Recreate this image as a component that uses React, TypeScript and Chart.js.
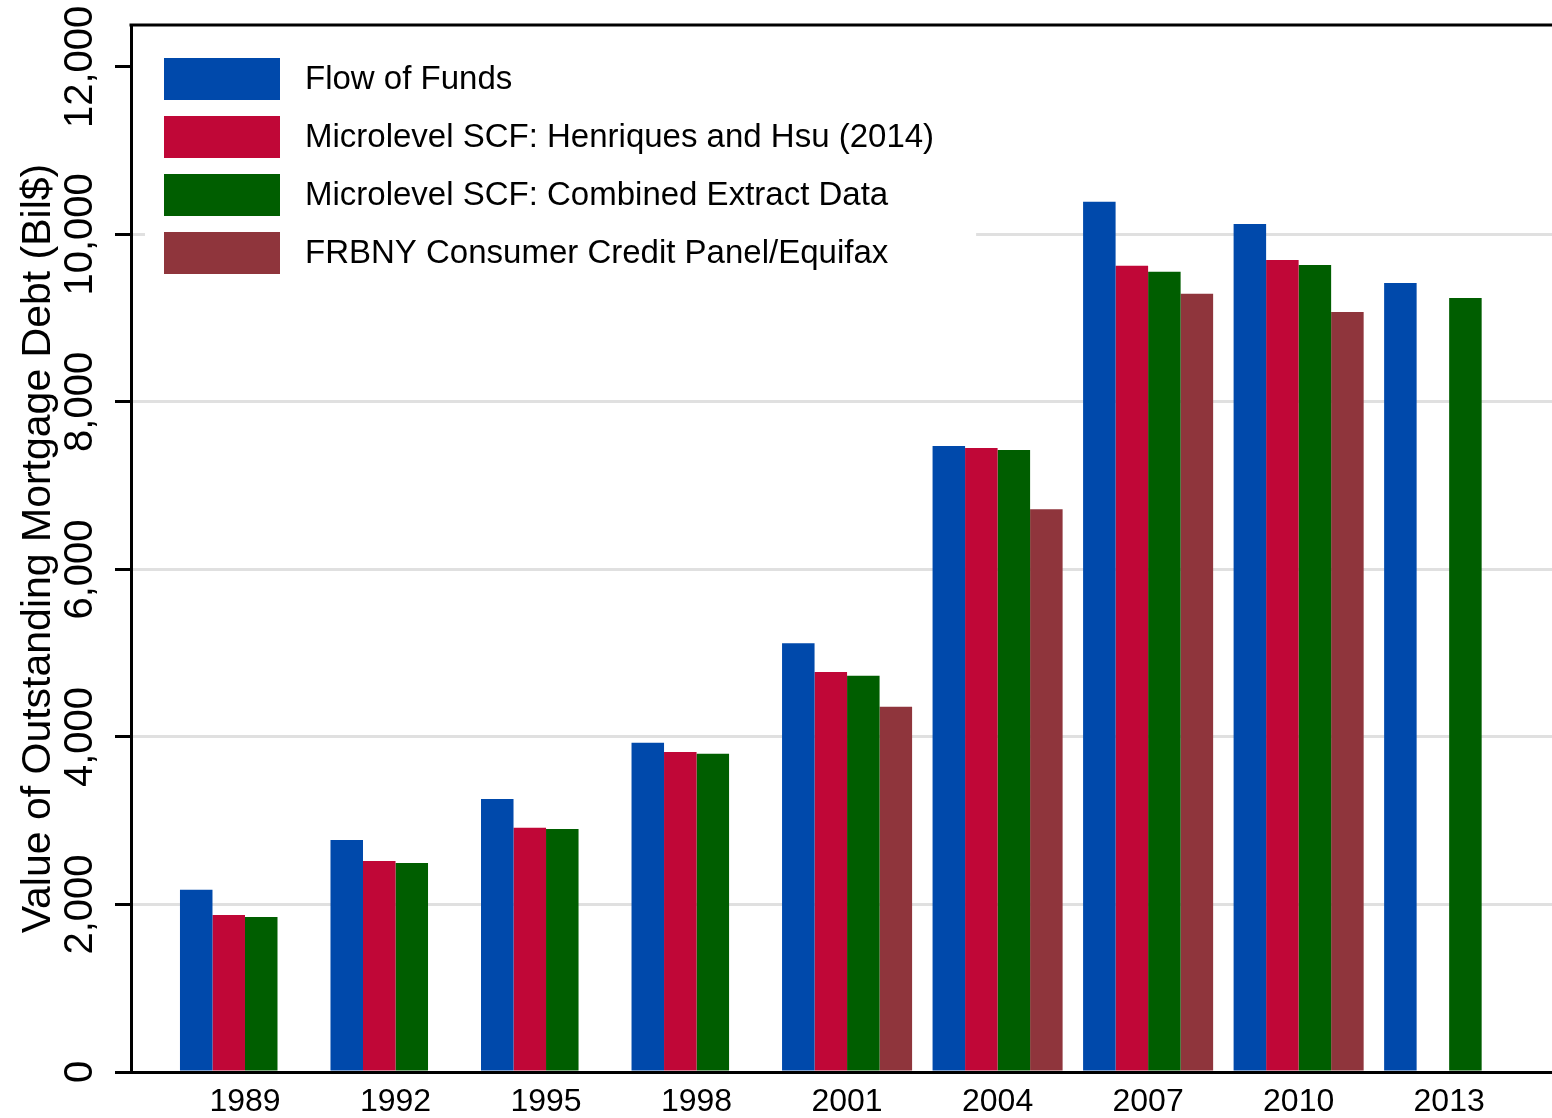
import React, { useEffect, useRef } from 'react';
import { Chart, registerables } from 'chart.js';

Chart.register(...registerables);

// ---- Data ----
const years = [1989, 1992, 1995, 1998, 2001, 2004, 2007, 2010, 2013];
const flowOfFunds = [2175, 2770, 3260, 3930, 5120, 7475, 10390, 10125, 9420];
const scfHenriquesHsu = [1875, 2520, 2915, 3820, 4775, 7450, 9625, 9695, null];
const scfCombined = [1850, 2495, 2900, 3800, 4730, 7425, 9555, 9635, 9240];
const frbnyCCP = [null, null, null, null, 4360, 6720, 9290, 9075, null];

const seriesLabels = [
  'Flow of Funds',
  'Microlevel SCF: Henriques and Hsu (2014)',
  'Microlevel SCF: Combined Extract Data',
  'FRBNY Consumer Credit Panel/Equifax',
];
const seriesColors = ['#0049AB', '#C00737', '#005E00', '#8F353C'];
const yTicks = [0, 2000, 4000, 6000, 8000, 10000, 12000];
const yTitle = 'Value of Outstanding Mortgage Debt (Bil$)';

const FONT = '"Liberation Sans", Arial, Helvetica, sans-serif';

const legendPlugin = {
  id: 'stataLegend',
  afterDraw(chart: any) {
    const { ctx, chartArea } = chart;
    const ds = chart.data.datasets;
    ctx.save();
    ctx.font = `33px ${FONT}`;
    const boxW = 116, boxH = 42, rowStep = 58, gap = 25, pad = 19;
    const x0 = chartArea.left + 33;
    const y0 = chartArea.top + 33;
    let maxW = 0;
    ds.forEach((d: any) => { maxW = Math.max(maxW, ctx.measureText(d.label).width); });
    const rx = x0 - pad;
    const ry = y0 - pad;
    const rw = pad + boxW + gap + maxW + 42;
    const rh = (ds.length - 1) * rowStep + boxH + 2 * pad;
    ctx.fillStyle = '#ffffff';
    ctx.fillRect(rx, ry, rw, rh);
    ds.forEach((d: any, i: number) => {
      const y = y0 + i * rowStep;
      ctx.fillStyle = d.backgroundColor;
      ctx.fillRect(x0, y, boxW, boxH);
      ctx.fillStyle = '#000';
      ctx.textAlign = 'left';
      ctx.textBaseline = 'middle';
      ctx.fillText(d.label, x0 + boxW + gap, y + boxH / 2 + 1);
    });
    ctx.restore();
  },
};

const topBorderPlugin = {
  id: 'topBorder',
  afterDraw(chart: any) {
    const { ctx, chartArea } = chart;
    ctx.save();
    ctx.strokeStyle = '#000';
    ctx.lineWidth = 3;
    ctx.beginPath();
    ctx.moveTo(chartArea.left - 1.5, chartArea.top);
    ctx.lineTo(chartArea.right, chartArea.top);
    ctx.stroke();
    ctx.restore();
  },
};

export default function App() {
  const canvasRef = useRef<HTMLCanvasElement | null>(null);

  useEffect(() => {
    document.body.style.margin = '0';
    const canvas = canvasRef.current;
    if (!canvas) return;
    const allSeries = [flowOfFunds, scfHenriquesHsu, scfCombined, frbnyCCP];
    const chart = new Chart(canvas, {
      type: 'bar',
      data: {
        datasets: allSeries.map((vals, i) => ({
          label: seriesLabels[i],
          data: years.map((yr, j) => ({ x: yr, y: vals[j] })),
          backgroundColor: seriesColors[i],
          borderWidth: 0,
          categoryPercentage: 0.864,
          barPercentage: 1.0,
        })),
      },
      options: {
        responsive: false,
        animation: false,
        devicePixelRatio: 1,
        layout: { padding: { top: 25, left: 0, right: 0, bottom: 0 } },
        plugins: {
          legend: { display: false },
          tooltip: { enabled: false },
        },
        scales: {
          x: {
            type: 'linear',
            position: 'bottom',
            offset: false,
            min: 1986.728,
            max: 2015.05,
            afterBuildTicks: (axis: any) => {
              axis.ticks = years.map((v) => ({ value: v }));
            },
            afterFit: (scale: any) => { scale.height = 46; },
            grid: { display: false, drawTicks: false, offset: false },
            border: { display: true, color: '#000', width: 3 },
            ticks: {
              color: '#000',
              font: { family: FONT, size: 32 },
              padding: 11,
              maxRotation: 0,
              minRotation: 0,
              autoSkip: false,
              callback: (v: any) => String(v),
            },
          },
          y: {
            type: 'linear',
            min: 0,
            max: 12500,
            afterBuildTicks: (axis: any) => {
              axis.ticks = yTicks.map((v) => ({ value: v }));
            },
            afterFit: (scale: any) => { scale.width = 131; },
            grid: {
              color: (c: any) =>
                c.tick && (c.tick.value === 0 || c.tick.value === 12000) ? 'rgba(0,0,0,0)' : '#E0E0E0',
              lineWidth: 3,
              tickColor: '#000',
              tickWidth: 3,
              tickLength: 16,
              drawTicks: true,
            },
            border: { display: true, color: '#000', width: 3 },
            ticks: {
              color: '#000',
              font: { family: FONT, size: 40 },
              minRotation: 90,
              maxRotation: 90,
              crossAlign: 'center',
              padding: -27,
              autoSkip: false,
              callback: (v: any) => Number(v).toLocaleString('en-US'),
            },
            title: {
              display: true,
              text: yTitle,
              color: '#000',
              font: { family: FONT, size: 41 },
              padding: { top: 14, bottom: 0 },
            },
          },
        },
      },
      plugins: [topBorderPlugin, legendPlugin],
    } as any);
    return () => chart.destroy();
  }, []);

  return (
    <div style={{ position: 'absolute', left: 0, top: 0, width: 1552, height: 1118, background: '#fff' }}>
      <canvas ref={canvasRef} width={1552} height={1118} />
    </div>
  );
}
